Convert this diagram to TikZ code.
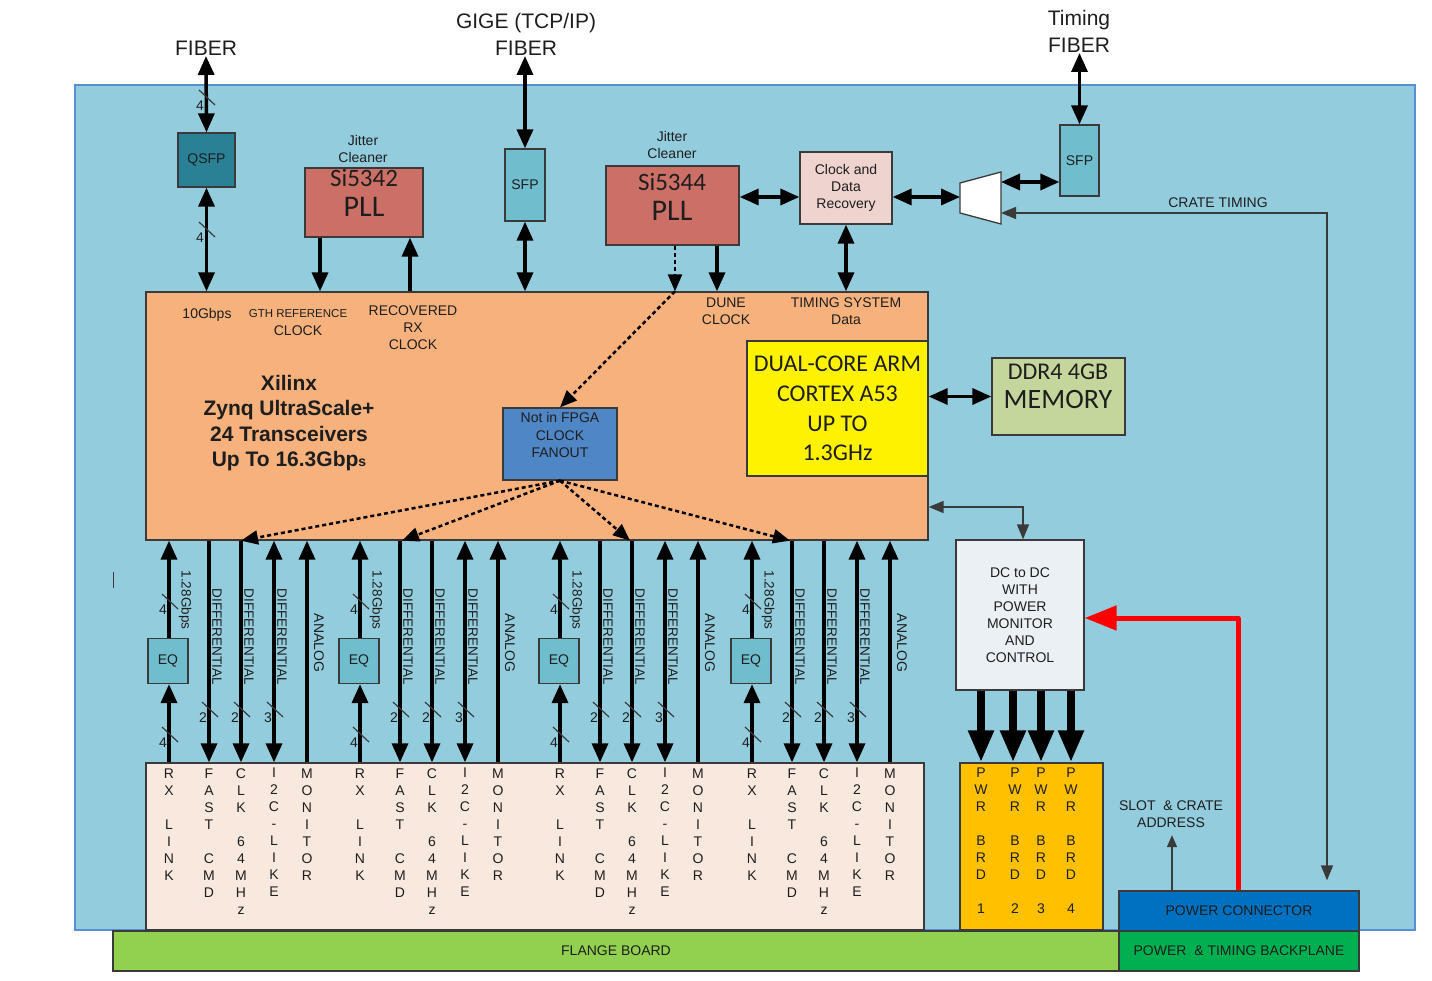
\documentclass[tikz,border=0pt]{standalone}
\usepackage{fontspec}
\setmainfont{Liberation Sans}
\newfontfamily\calfont{Carlito}
\usetikzlibrary{arrows.meta}
\definecolor{panelc}{HTML}{93CDDD}
\definecolor{panelb}{HTML}{5B8FD5}
\definecolor{qsfpc}{HTML}{2A8094}
\definecolor{sfpc}{HTML}{70BDCE}
\definecolor{pllc}{HTML}{CC7067}
\definecolor{cdrc}{HTML}{EED3CF}
\definecolor{fpgac}{HTML}{F6B17C}
\definecolor{fanc}{HTML}{4F86C6}
\definecolor{ddrc}{HTML}{C4D69C}
\definecolor{dcc}{HTML}{EBF0F4}
\definecolor{pwrc}{HTML}{FFC000}
\definecolor{botc}{HTML}{F9E8DE}
\definecolor{flangec}{HTML}{92D050}
\definecolor{pconnc}{HTML}{0070C0}
\definecolor{bplanec}{HTML}{00B050}
\definecolor{edgec}{HTML}{3A3A3A}
\definecolor{txtc}{HTML}{1E1E1E}
\newcommand\fs[2]{\fontsize{#1pt}{#2pt}\selectfont}
\newcommand\slashm[3]{%
  \draw[slash] ({#1-7},{#2-8}) -- ({#1+9},{#2+7});
  \node[txt, font=\fs{14}{16}] at ({#1-6},{#2+8}) {#3};}
\begin{document}
\begin{tikzpicture}[x=1pt,y=-1pt,
  box/.style={draw=edgec, line width=1.3pt, inner sep=0pt, align=center, text=txtc},
  sz/.style 2 args={minimum width=#1pt, minimum height=#2pt},
  txt/.style={inner sep=0pt, align=center, text=txtc},
  tk/.style={line width=3.5pt, -{Triangle[length=19pt,width=16pt]}},
  tkb/.style={line width=3.5pt, {Triangle[length=19pt,width=16pt]}-{Triangle[length=19pt,width=16pt]}},
  thn/.style={line width=1.5pt, draw=edgec, -{Triangle[length=12pt,width=10pt]}},
  thnb/.style={line width=1.5pt, draw=edgec, {Triangle[length=15pt,width=12pt]}-{Triangle[length=15pt,width=12pt]}},
  dotarr/.style={line width=2.5pt, dash pattern=on 4pt off 3pt, -{Triangle[length=17pt,width=14pt]}},
  pwrarr/.style={line width=8pt, -{Triangle[length=32pt,width=24pt]}},
  redarr/.style={draw=red, line width=5pt, line join=round, -{Triangle[length=32pt,width=24pt]}},
  slash/.style={line width=1.2pt, draw=edgec},
  ]
\useasboundingbox (0,0) rectangle (1432,981);
\fill[white] (0,0) rectangle (1432,981);

% main panel
\node[fill=panelc, draw=panelb, line width=1.5pt, inner sep=0pt, sz={1340}{845}] (panel) at (745,507.5) {};
\draw[edgec, line width=1pt] (113,572) -- (113,588);

% boards
\node[box, fill=botc, sz={778}{167}] (bot) at (535,846.5) {};
\node[box, fill=flangec, font=\fs{14}{17}, sz={1006}{40}] (flange) at (616,951) {FLANGE BOARD};
\node[box, fill=bplanec, font=\fs{14}{17}, sz={240}{40}] (bplane) at (1239,951) {POWER\ \ \& TIMING BACKPLANE};
\node[box, fill=pconnc, font=\fs{14}{17}, sz={240}{40}] (pconn) at (1239,911) {POWER CONNECTOR};
\node[box, fill=pwrc, sz={143}{167}] (pwr) at (1031.5,846.5) {};

% top labels
\node[txt, anchor=south, font=\fs{21}{27}] (fib1) at (206,56) {FIBER};
\node[txt, anchor=south, font=\fs{21}{27}] (gige) at (526,56) {GIGE (TCP/IP)\\FIBER};
\node[txt, anchor=south, font=\fs{21}{27}] (tfib) at (1079,53) {Timing\\FIBER};
\node[txt, font=\fs{14}{17}] (jc1) at (363,149) {Jitter\\Cleaner};
\node[txt, font=\fs{14}{17}] (jc2) at (672,145) {Jitter\\Cleaner};

% top boxes
\node[box, fill=qsfpc, font=\fs{14}{17}, sz={57}{54}] (qsfp) at (206.5,160) {QSFP};
\node[box, fill=pllc, sz={118}{69}] (pll1) at (364,202.5) {};
\node[txt, font=\calfont\fs{25}{29}] (pll1a) at (364,178) {Si5342};
\node[txt, font=\calfont\fs{30}{34}] (pll1b) at (364,207) {PLL};
\node[box, fill=sfpc, font=\fs{14}{17}, sz={40}{72}] (sfp1) at (525,185) {SFP};
\node[box, fill=pllc, sz={133}{79}] (pll2) at (672.5,205.5) {};
\node[txt, font=\calfont\fs{25}{29}] (pll2a) at (672,182) {Si5344};
\node[txt, font=\calfont\fs{30}{34}] (pll2b) at (672,211) {PLL};
\node[box, fill=cdrc, font=\fs{14}{17}, sz={92}{72}] (cdr) at (846,188) {Clock and\\Data\\Recovery};
\node[box, fill=sfpc, font=\fs{14}{17}, sz={39}{71}] (sfp2) at (1079.5,160.5) {SFP};
\draw[edgec, line width=1.3pt, fill=white] (960,183) -- (1001,172) -- (1001,224) -- (960,213) -- cycle;
\coordinate (trapL) at (960,197);
\coordinate (trapR1) at (1001,182);
\coordinate (trapR2) at (1001,213);

% FPGA
\node[box, fill=fpgac, sz={782}{248}] (fpga) at (537,416) {};
\node[txt, font=\fs{14}{17}] (l10g) at (207,315) {10Gbps};
\node[txt, font=\fs{11.5}{13}] (lgth) at (298,314) {GTH REFERENCE};
\node[txt, font=\fs{14}{17}] (lgthc) at (298,331) {CLOCK};
\node[txt, font=\fs{14}{17}] (lrec) at (413,328) {RECOVERED\\RX\\CLOCK};
\node[txt, font=\fs{14}{17}] (ldune) at (726,311.5) {DUNE\\CLOCK};
\node[txt, font=\fs{14}{17}] (ltim) at (846,311.5) {TIMING SYSTEM\\Data};
\node[txt, font=\bfseries\fs{21}{25.5}] (xil) at (289,423) {Xilinx\\Zynq UltraScale+\\24 Transceivers\\Up To 16.3Gbp{\fs{14}{14}s}};
\node[box, fill=fanc, sz={114}{72}] (fan) at (560,444) {};
\node[txt, font=\fs{14}{17.5}] (fant) at (560,435) {Not in FPGA\\CLOCK\\FANOUT};
\node[box, fill=yellow, font=\calfont\fs{24}{29.7}, sz={181}{135}] (arm) at (837.5,408.5) {DUAL-CORE ARM\\CORTEX A53\\UP TO\\1.3GHz};
\node[box, fill=ddrc, sz={133}{77}] (ddr) at (1058.5,396.5) {};
\node[txt, font=\calfont\fs{24}{28}] (ddra) at (1058,372) {DDR4 4GB};
\node[txt, font=\calfont\fs{28}{32}] (ddrb) at (1058,400) {MEMORY};

% DC to DC
\node[box, fill=dcc, font=\fs{14}{17}, sz={128}{150}] (dc) at (1020,615) {DC to DC\\WITH\\POWER\\MONITOR\\AND\\CONTROL};

% other labels
\node[txt, font=\fs{14}{17}] (crt) at (1218,203) {CRATE TIMING};
\node[txt, font=\fs{14}{17}] (slot) at (1171,814.5) {SLOT\ \ \& CRATE\\ADDRESS};

% top connectors
\draw[tkb] (fib1.south) -- (qsfp.north);
\slashm{206}{98}{4}
\draw[tkb] (qsfp.south) -- (qsfp.south |- fpga.north);
\slashm{206}{230}{4}
\draw[tk] (pll1.south -| 320,0) -- (fpga.north -| 320,0);
\draw[tk] (fpga.north -| 410,0) -- (pll1.south -| 410,0);
\draw[tkb] (sfp1.north |- gige.south) -- (sfp1.north);
\draw[tkb] (sfp1.south) -- (sfp1.south |- fpga.north);
\draw[dotarr] (pll2.south -| 675,0) -- (fpga.north -| 675,0);
\draw[dotarr] (fpga.north -| 675,0) -- (fan.north);
\draw[tk] (pll2.south -| 717,0) -- (fpga.north -| 717,0);
\draw[tkb] (pll2.east |- 0,197) -- (cdr.west |- 0,197);
\draw[tkb] (cdr.south) -- (cdr.south |- fpga.north);
\draw[tkb] (cdr.east |- trapL) -- (trapL);
\draw[tkb] (trapR1) -- (sfp2.west |- trapR1);
\draw[tkb] (sfp2.north |- tfib.south) -- (sfp2.north);
\draw[thnb, shorten >=10pt] (trapR2) -- (1327,213) -- (pconn.north -| 1327,0);

% fanout
\foreach \t in {241,402,630,790}
  \draw[dotarr] (fan.south) -- (fpga.south -| \t,0);

% ARM / DDR / DC
\draw[tkb] (arm.east |- ddr.west) -- (ddr.west);
\draw[thnb] (fpga.east |- 0,507) -- (1023,507) -- (dc.north -| 1023,0);
\draw[redarr] (pconn.north -| 1238,0) -- (1238,618) -- (dc.east |- 0,618);
\draw[thn, shorten >=7pt] (pconn.north -| 1172,0) -- (slot.south -| 1172,0);
\foreach \x in {981,1013,1041,1071}
  \draw[pwrarr] (dc.south -| \x,0) -- (pwr.north -| \x,0);
\foreach \x/\n in {981/1,1015/2,1041/3,1071/4}
  \node[txt, anchor=north, font=\fs{14}{17}] (pwrt\n) at (\x,768) {P\\W\\R\\~\\B\\R\\D\\~\\\n};

% lanes
\foreach \r/\g in {169/1,360/2,560/3,752/4}{
  \pgfmathtruncatemacro\lf{\r+40}
  \pgfmathtruncatemacro\lc{\r+72}
  \pgfmathtruncatemacro\li{\r+105}
  \pgfmathtruncatemacro\lm{\r+138}
  \node[box, fill=sfpc, sz={40}{45}, font=\fs{14}{17}] (eq\g) at (\r-1,661) {EQ};
  \draw[tk] (eq\g.north -| \r,0) -- (fpga.south -| \r,0);
  \draw[tk] (bot.north -| \r,0) -- (eq\g.south -| \r,0);
  \draw[tk] (fpga.south -| \lf,0) -- (bot.north -| \lf,0);
  \draw[tk] (fpga.south -| \lc,0) -- (bot.north -| \lc,0);
  \draw[tkb] (fpga.south -| \li,0) -- (bot.north -| \li,0);
  \draw[tk] (bot.north -| \lm,0) -- (fpga.south -| \lm,0);
  \node[txt, rotate=-90, font=\fs{13.5}{16}] at (\r+16,600) {1.28Gbps};
  \node[txt, rotate=-90, font=\fs{13.5}{16}] at (\lf+8,637) {DIFFERENTIAL};
  \node[txt, rotate=-90, font=\fs{13.5}{16}] at (\lc+8,637) {DIFFERENTIAL};
  \node[txt, rotate=-90, font=\fs{13.5}{16}] at (\li+8,637) {DIFFERENTIAL};
  \node[txt, rotate=-90, font=\fs{14}{16}] at (\lm+12,643) {ANALOG};
  \slashm{\r}{602}{4}
  \slashm{\r}{735}{4}
  \slashm{\lf}{710}{2}
  \slashm{\lc}{710}{2}
  \slashm{\li}{710}{3}
  \node[txt, anchor=north, font=\fs{14}{17}] (rx\g) at (\r,769) {R\\X\\~\\L\\I\\N\\K};
  \node[txt, anchor=north, font=\fs{14}{17}] (fc\g) at (\lf,769) {F\\A\\S\\T\\~\\C\\M\\D};
  \node[txt, anchor=north, font=\fs{14}{17}] (ck\g) at (\lc,769) {C\\L\\K\\~\\6\\4\\M\\H\\z};
  \node[txt, anchor=north, font=\fs{14}{17}] (ic\g) at (\li,768) {I\\2\\C\\-\\L\\I\\K\\E};
  \node[txt, anchor=north, font=\fs{14}{17}] (mo\g) at (\lm,769) {M\\O\\N\\I\\T\\O\\R};
}
\end{tikzpicture}
\end{document}
